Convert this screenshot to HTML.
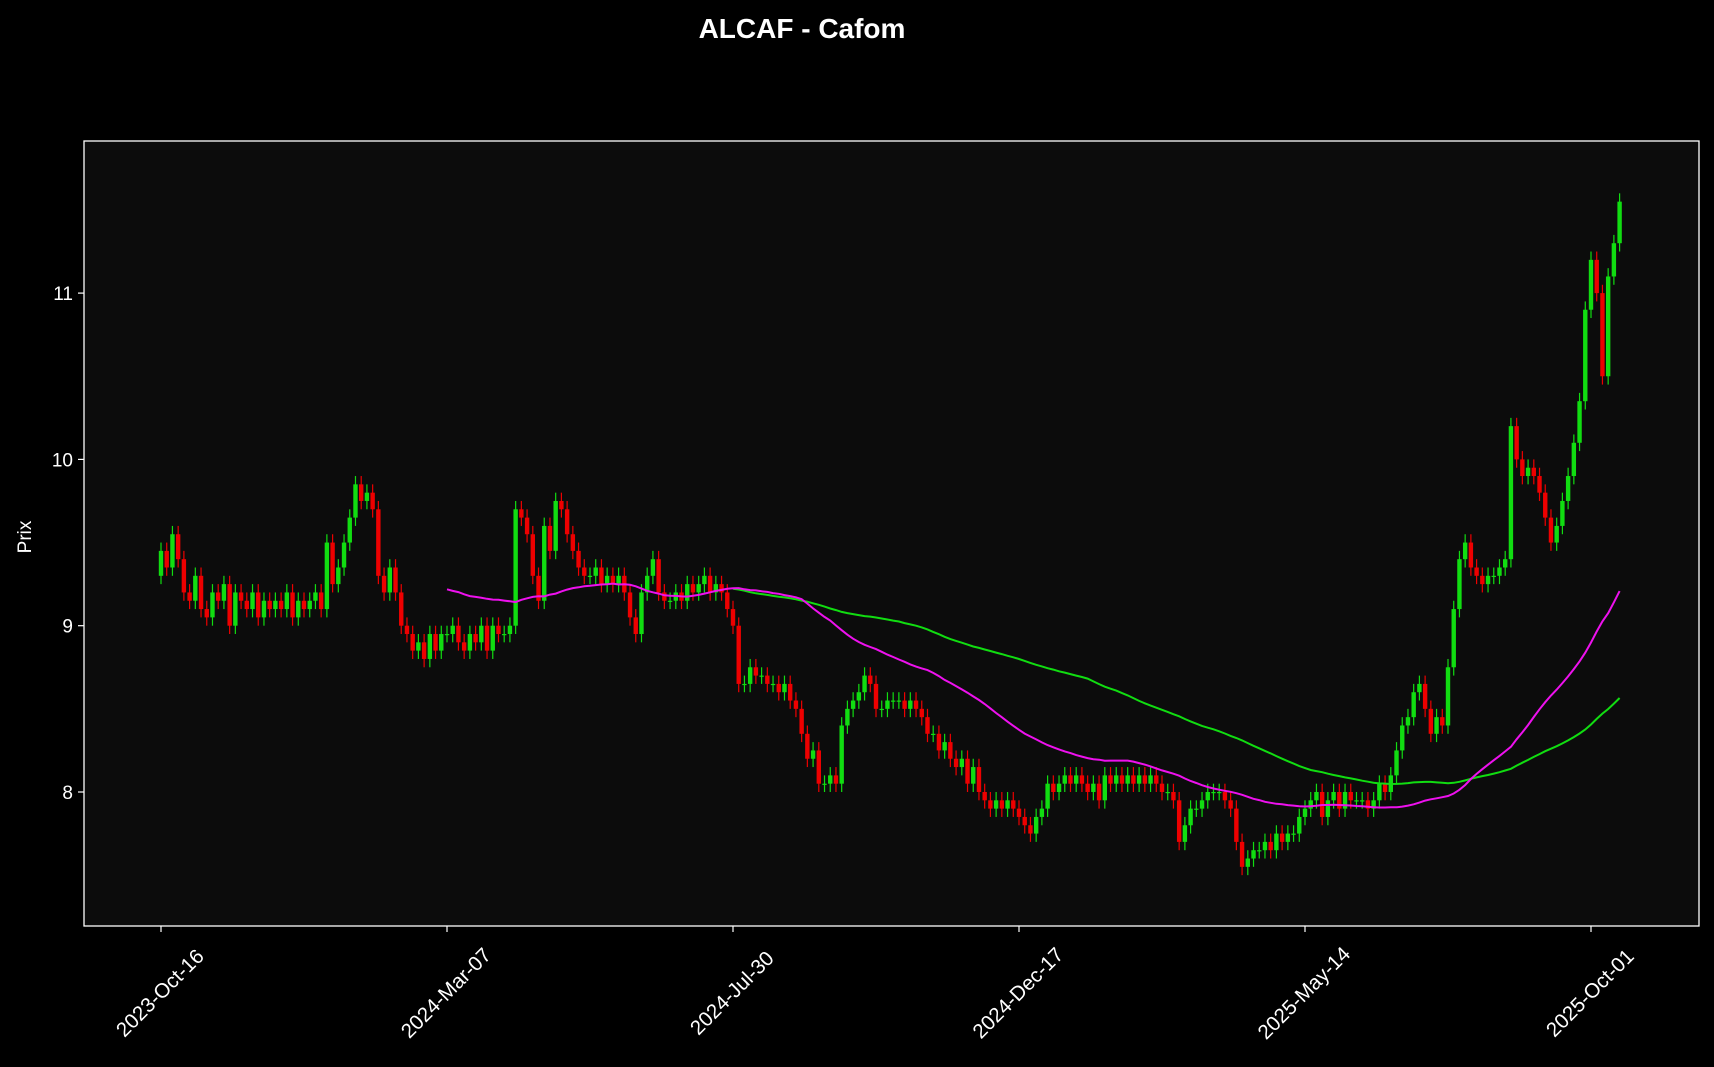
<!DOCTYPE html>
<html><head><meta charset="utf-8"><style>
html,body{margin:0;padding:0;background:#000;}
svg{display:block;font-family:"Liberation Sans","DejaVu Sans",sans-serif;}
</style></head><body>
<svg id="chart" width="1714" height="1067" viewBox="0 0 1714 1067">
<rect x="0" y="0" width="1714" height="1067" fill="#000"/>
<text x="802" y="38" fill="#fff" font-size="28" font-weight="bold" text-anchor="middle">ALCAF - Cafom</text>
<rect x="84" y="141" width="1615" height="785" fill="#0c0c0c"/>
<g id="candles"></g>
<g id="mas"></g>
<rect x="84" y="141" width="1615" height="785" fill="none" stroke="#fff" stroke-width="1.3"/>
<g id="axes"></g>
<text transform="translate(31,537) rotate(-90)" fill="#fff" font-size="19" text-anchor="middle">Prix</text>
</svg>
<script>
// closes sampled every 2 trading days
const closes = [
9.45,9.35,9.55,9.4,9.2,9.15,9.3,9.1,9.05,9.2,
9.15,9.25,9.0,9.2,9.15,9.1,9.2,9.05,9.15,9.1,
9.15,9.1,9.2,9.05,9.15,9.1,9.15,9.2,9.1,9.5,
9.25,9.35,9.5,9.65,9.85,9.75,9.8,9.7,9.3,9.2,
9.35,9.2,9.0,8.95,8.85,8.9,8.8,8.95,8.85,8.95,
8.95,9.0,8.9,8.85,8.95,8.9,9.0,8.85,9.0,8.95,
8.95,9.0,9.7,9.65,9.55,9.3,9.15,9.6,9.45,9.75,
9.7,9.55,9.45,9.35,9.3,9.3,9.35,9.25,9.3,9.25,
9.3,9.2,9.05,8.95,9.2,9.3,9.4,9.2,9.15,9.15,
9.2,9.15,9.25,9.2,9.25,9.3,9.2,9.25,9.2,9.1,
9.0,8.65,8.65,8.75,8.7,8.7,8.65,8.65,8.6,8.65,
8.55,8.5,8.35,8.2,8.25,8.05,8.05,8.1,8.05,8.4,
8.5,8.55,8.6,8.7,8.65,8.5,8.5,8.55,8.55,8.55,
8.5,8.55,8.5,8.45,8.35,8.35,8.25,8.3,8.2,8.15,
8.2,8.05,8.15,8.0,7.95,7.9,7.95,7.9,7.95,7.9,
7.85,7.8,7.75,7.85,7.9,8.05,8.0,8.05,8.1,8.05,
8.1,8.05,8.0,8.05,7.95,8.1,8.05,8.1,8.05,8.1,
8.05,8.1,8.05,8.1,8.05,8.0,8.0,7.95,7.7,7.8,
7.9,7.9,7.95,8.0,8.0,8.0,7.95,7.9,7.7,7.55,
7.6,7.65,7.65,7.7,7.65,7.75,7.7,7.75,7.75,7.85,
7.9,7.95,8.0,7.85,7.95,8.0,7.9,8.0,7.95,7.95,
7.95,7.9,7.95,8.05,8.0,8.1,8.25,8.4,8.45,8.6,
8.65,8.5,8.35,8.45,8.4,8.75,9.1,9.4,9.5,9.35,
9.3,9.25,9.3,9.3,9.35,9.4,10.2,10.0,9.9,9.95,
9.9,9.8,9.65,9.5,9.6,9.75,9.9,10.1,10.35,10.9,
11.2,11.0,10.5,11.1,11.3,11.55
];
const firstOpen = 9.3;
const yTicks = [8, 9, 10, 11];
const xTickLabels = ["2023-Oct-16","2024-Mar-07","2024-Jul-30","2024-Dec-17","2025-May-14","2025-Oct-01"];
const xTickIndex = [0, 50, 100, 150, 200, 250];
const maShort = 50, maLong = 100;

const NS = "http://www.w3.org/2000/svg";
const X0 = 161, DX = 5.72;
function xs(i){ return X0 + i*DX; }
function ys(v){ return 792 - (v-8)*166.3; }
function mk(tag, attrs, parent){
  const e = document.createElementNS(NS, tag);
  for (const k in attrs) e.setAttribute(k, attrs[k]);
  parent.appendChild(e); return e;
}
const cg = document.getElementById('candles');
const WICK = 0.05;
closes.forEach((c, i) => {
  const o = i === 0 ? firstOpen : closes[i-1];
  const up = c >= o;
  const col = up ? "#11dd11" : "#ee0000";
  const hi = Math.max(o,c) + WICK, lo = Math.min(o,c) - WICK;
  const w = mk('line', {x1:xs(i), x2:xs(i), y1:ys(hi), y2:ys(lo), stroke:col, 'stroke-width':1.2}, cg);
  
  
  const top = ys(Math.max(o,c)), bot = ys(Math.min(o,c));
  const b = mk('rect', {x:xs(i)-2.2, y:top, width:4.4, height:Math.max(1.2, bot-top), fill:col}, cg);
  
  
});
const mg = document.getElementById('mas');
function drawMA(n, col, name){
  let pts = [];
  for (let i = n; i < closes.length; i++){
    let s = 0; for (let j = i-n; j < i; j++) s += closes[j];
    pts.push(xs(i).toFixed(1) + "," + ys(s/n).toFixed(1));
  }
  const p = mk('polyline', {points:pts.join(" "), fill:"none", stroke:col, 'stroke-width':2}, mg);
  
  
}
drawMA(maLong, "#11dd11", "ma-long-line");
drawMA(maShort, "#ee11ee", "ma-short-line");

const ag = document.getElementById('axes');
yTicks.forEach(v => {
  const t = mk('line', {x1:78, x2:84, y1:ys(v), y2:ys(v), stroke:"#fff", 'stroke-width':1.2}, ag);
  
  
  const l = mk('text', {x:73, y:ys(v)+7, fill:"#fff", 'font-size':19, 'text-anchor':'end'}, ag);
  l.textContent = String(v);
  
  
});
xTickIndex.forEach((idx, k) => {
  const x = xs(idx);
  const t = mk('line', {x1:x, x2:x, y1:926, y2:932, stroke:"#fff", 'stroke-width':1.2}, ag);
  
  
  const l = mk('text', {transform:`translate(${x},${994}) rotate(-45)`, fill:"#fff", 'font-size':20.5, 'text-anchor':'middle', 'dominant-baseline':'middle'}, ag);
  l.textContent = xTickLabels[k];
  
  
});
</script>
</body></html>
